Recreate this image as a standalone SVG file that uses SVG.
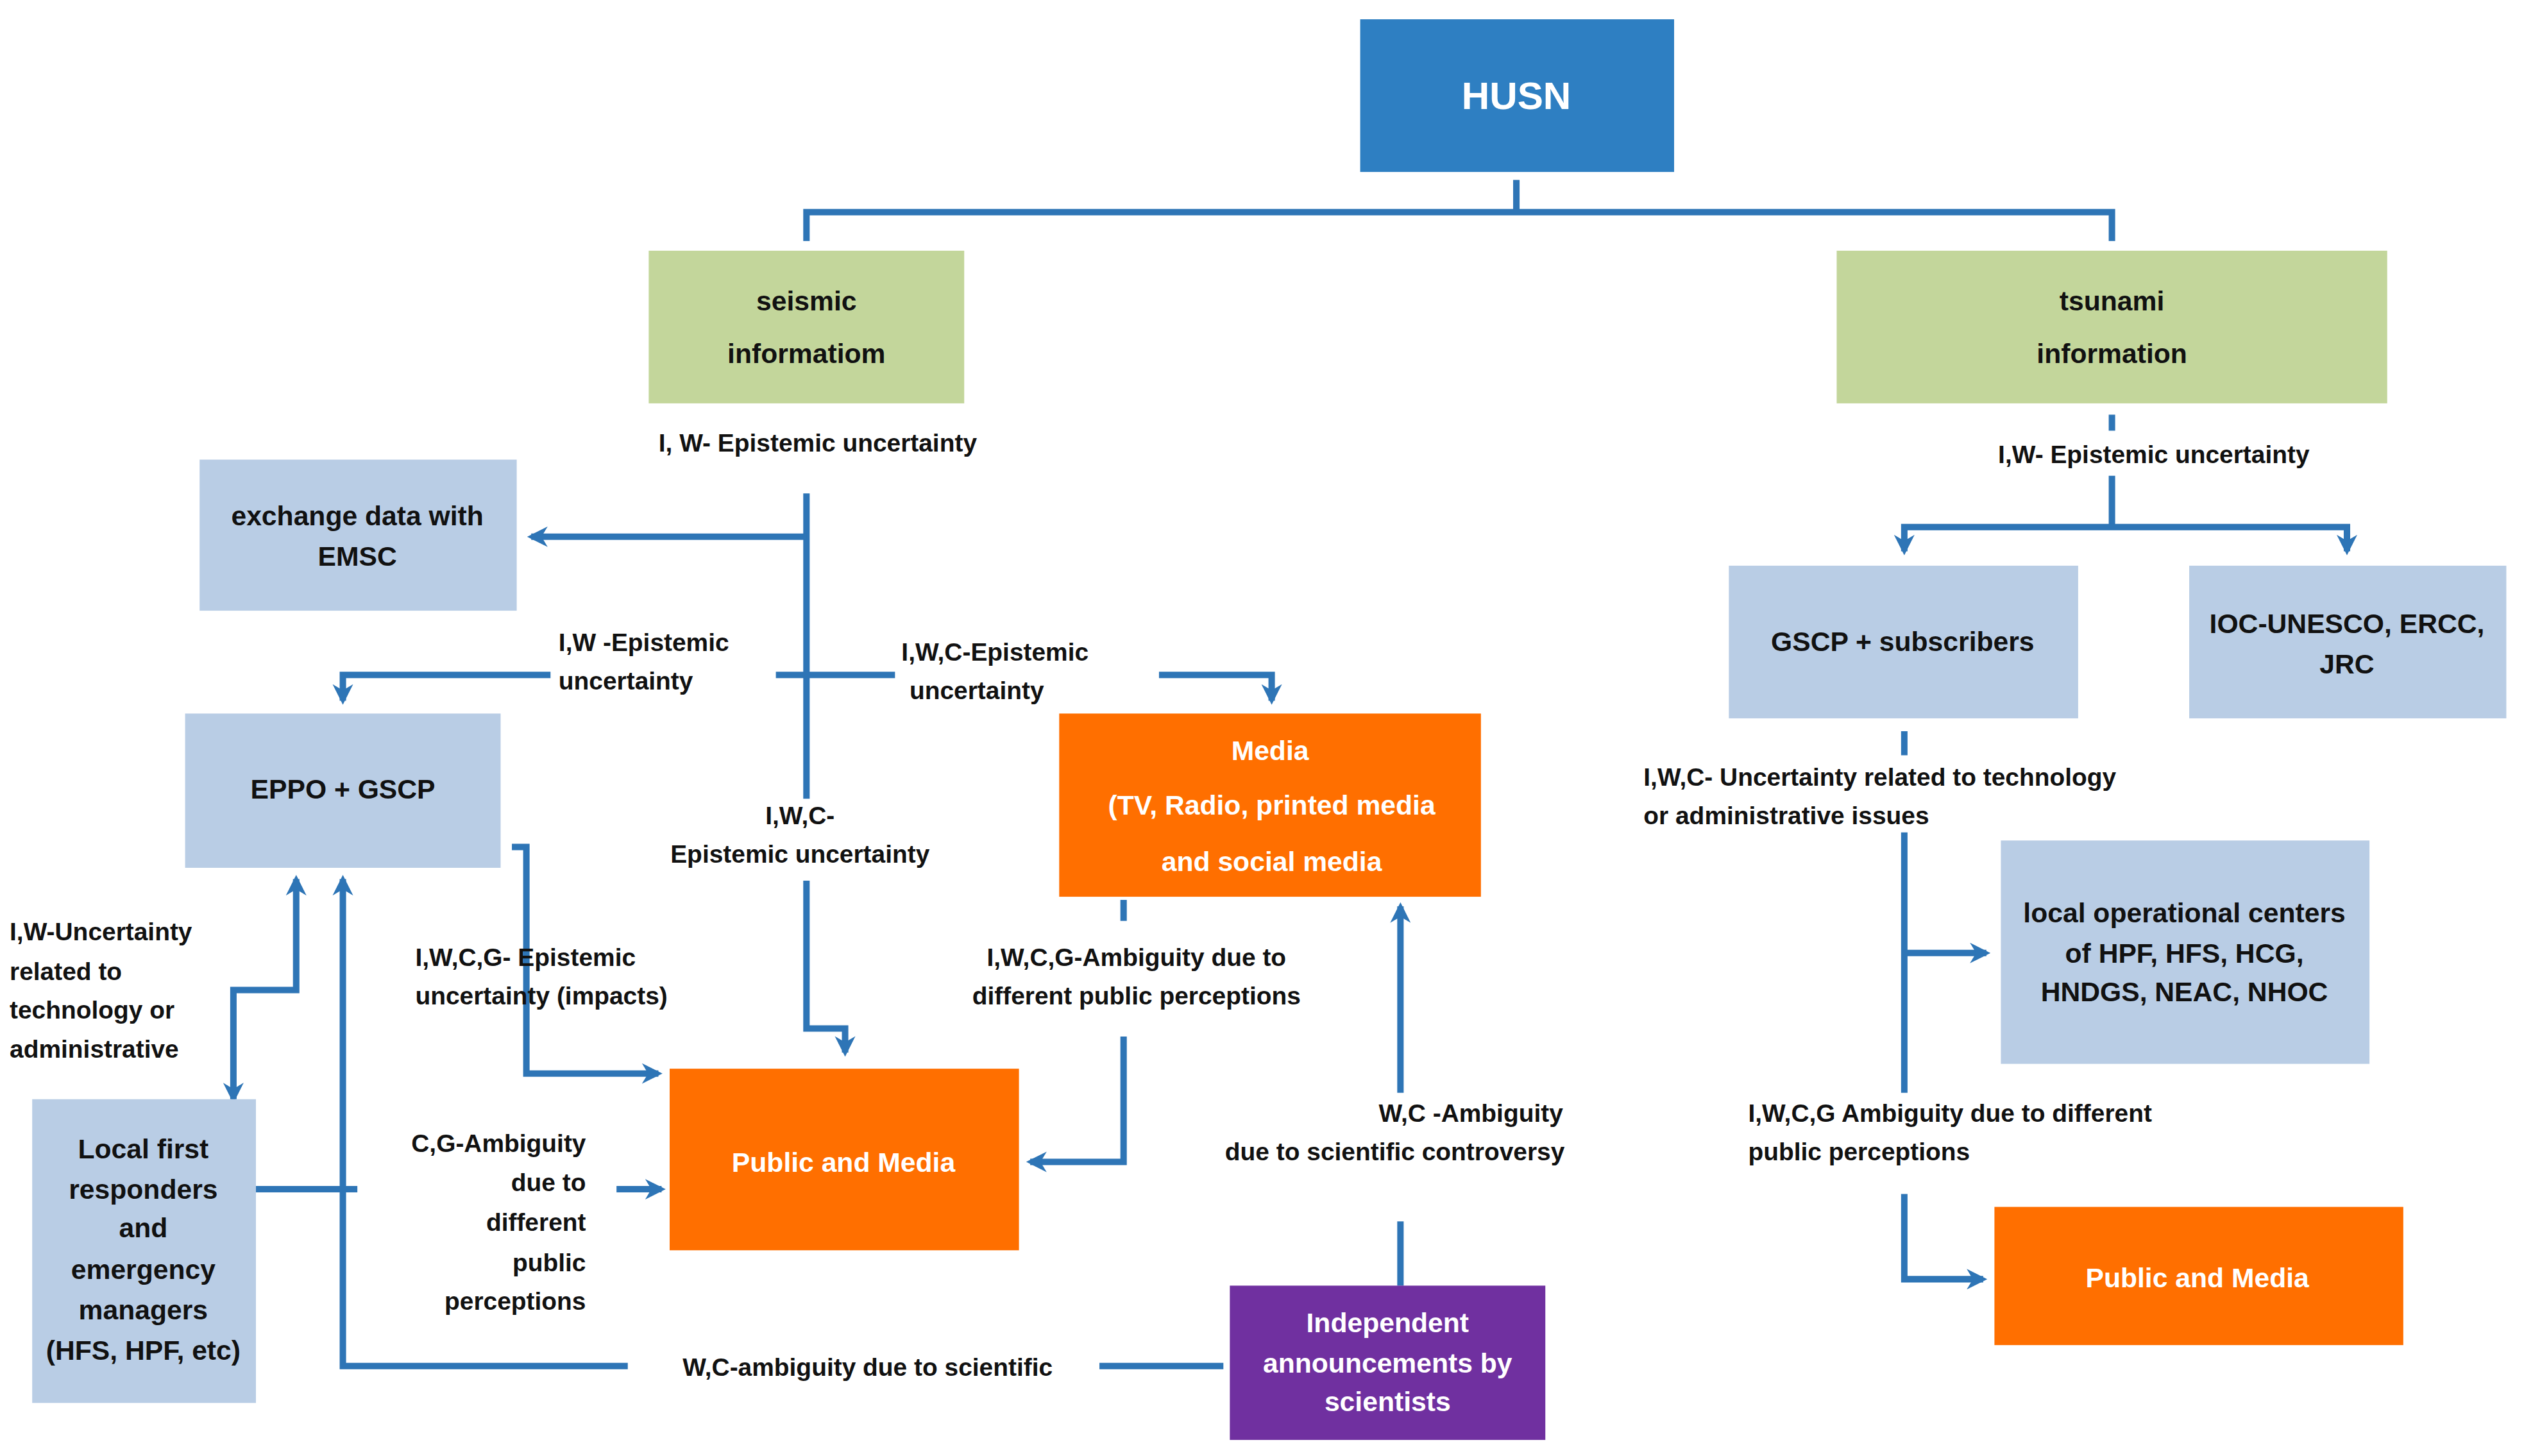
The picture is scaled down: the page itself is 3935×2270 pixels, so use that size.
<svg xmlns="http://www.w3.org/2000/svg" width="3935" height="2270" viewBox="0 0 3935 2270">
<style>
.t{font-family:"Liberation Sans",Arial,sans-serif;font-weight:bold;font-size:15.5px;fill:#111}
.w{font-family:"Liberation Sans",Arial,sans-serif;font-weight:bold;font-size:17px;fill:#fff}
.c{text-anchor:middle}.r{text-anchor:end}
.ln{fill:none;stroke:#2e75b6;stroke-width:4}
.blue{fill:#b9cde5}.green{fill:#c3d69b}.orange{fill:#ff6f00}.purple{fill:#7030a0}
</style>
<defs>
<marker id="a" viewBox="0 0 10 10" markerWidth="3.2" markerHeight="3.2" refX="8" refY="5" orient="auto-start-reverse"><path d="M0,0L10,5L0,10L3,5Z" fill="#2e75b6"/></marker>
</defs>
<rect width="3935" height="2270" fill="#fff"/>
<g transform="scale(2.5096,2.5055)">
<g id="connectors">
<path class="ln" d="M942,112V132M501,150V132H1312V150"/>
<path class="ln" d="M501,307V497M501,548V640H525V655" marker-end="url(#a)"/>
<path class="ln" d="M501,334H330" marker-end="url(#a)"/>
<path class="ln" d="M342,420H213V436" marker-end="url(#a)"/>
<path class="ln" d="M482,420H556"/>
<path class="ln" d="M720,420H790V436" marker-end="url(#a)"/>
<path class="ln" d="M318,527H327V668H409" marker-end="url(#a)"/>
<path class="ln" d="M698,560V573M698,645V723H640" marker-end="url(#a)"/>
<path class="ln" d="M870,680V564" marker-end="url(#a)"/>
<path class="ln" d="M870,760V800"/>
<path class="ln" d="M760,850H683"/>
<path class="ln" d="M390,850H213V547" marker-end="url(#a)"/>
<path class="ln" d="M150,740H222"/>
<path class="ln" d="M383,740H411" marker-end="url(#a)"/>
<path class="ln" d="M145,684V616H184V547" marker-start="url(#a)" marker-end="url(#a)"/>
<path class="ln" d="M1312,258V268M1312,296V328"/>
<path class="ln" d="M1183,343V328H1458V343" marker-start="url(#a)" marker-end="url(#a)"/>
<path class="ln" d="M1183,455V470M1183,518V680"/>
<path class="ln" d="M1183,593H1234" marker-end="url(#a)"/>
<path class="ln" d="M1183,743V796H1232" marker-end="url(#a)"/>
</g>
<g id="husn"><rect x="845" y="12" width="195" height="95" fill="#2e7fc2"/><text class="w c" x="942" y="68" style="font-size:24px">HUSN</text></g>
<g id="seismic"><rect class="green" x="403" y="156" width="196" height="95"/><text class="t c" x="501" y="193" style="font-size:17px">seismic</text><text class="t c" x="501" y="226" style="font-size:17px">informatiom</text></g>
<g id="tsunami"><rect class="green" x="1141" y="156" width="342" height="95"/><text class="t c" x="1312" y="193" style="font-size:17px">tsunami</text><text class="t c" x="1312" y="226" style="font-size:17px">information</text></g>
<g id="emsc"><rect class="blue" x="124" y="286" width="197" height="94"/><text class="t c" x="222" y="327" style="font-size:17px">exchange data with</text><text class="t c" x="222" y="352" style="font-size:17px">EMSC</text></g>
<g id="eppo"><rect class="blue" x="115" y="444" width="196" height="96"/><text class="t c" x="213" y="497" style="font-size:17px">EPPO + GSCP</text></g>
<g id="media"><rect class="orange" x="658" y="444" width="262" height="114"/><text class="w c" x="789" y="473">Media</text><text class="w c" x="790" y="507">(TV, Radio, printed media</text><text class="w c" x="790" y="542">and social media</text></g>
<g id="public1"><rect class="orange" x="416" y="665" width="217" height="113"/><text class="w c" x="524" y="729">Public  and Media</text></g>
<g id="independent"><rect class="purple" x="764" y="800" width="196" height="96"/><text class="w c" x="862" y="829">Independent</text><text class="w c" x="862" y="854">announcements by</text><text class="w c" x="862" y="878">scientists</text></g>
<g id="local"><rect class="blue" x="20" y="684" width="139" height="189"/><text class="t c" x="89" y="721" style="font-size:17px">Local first</text><text class="t c" x="89" y="746" style="font-size:17px">responders</text><text class="t c" x="89" y="770" style="font-size:17px">and</text><text class="t c" x="89" y="796" style="font-size:17px">emergency</text><text class="t c" x="89" y="821" style="font-size:17px">managers</text><text class="t c" x="89" y="846" style="font-size:17px">(HFS, HPF, etc)</text></g>
<g id="gscp"><rect class="blue" x="1074" y="352" width="217" height="95"/><text class="t c" x="1182" y="405" style="font-size:17px">GSCP + subscribers</text></g>
<g id="ioc"><rect class="blue" x="1360" y="352" width="197" height="95"/><text class="t c" x="1458" y="394" style="font-size:17px">IOC-UNESCO, ERCC,</text><text class="t c" x="1458" y="419" style="font-size:17px">JRC</text></g>
<g id="localops"><rect class="blue" x="1243" y="523" width="229" height="139"/><text class="t c" x="1357" y="574" style="font-size:17px">local operational centers</text><text class="t c" x="1357" y="599" style="font-size:17px">of HPF, HFS, HCG,</text><text class="t c" x="1357" y="623" style="font-size:17px">HNDGS, NEAC, NHOC</text></g>
<g id="public2"><rect class="orange" x="1239" y="751" width="254" height="86"/><text class="w c" x="1365" y="801">Public and Media</text></g>
<g id="labels">
<text class="t c" x="508" y="281">I, W- Epistemic uncertainty</text>
<text class="t" x="347" y="405">I,W -Epistemic</text><text class="t" x="347" y="429">uncertainty</text>
<text class="t" x="560" y="411">I,W,C-Epistemic</text><text class="t" x="565" y="435">uncertainty</text>
<text class="t c" x="497" y="513">I,W,C-</text><text class="t c" x="497" y="537">Epistemic uncertainty</text>
<text class="t" x="258" y="601">I,W,C,G- Epistemic</text><text class="t" x="258" y="625">uncertainty (impacts)</text>
<text class="t c" x="706" y="601">I,W,C,G-Ambiguity due to</text><text class="t c" x="706" y="625">different public perceptions</text>
<text class="t r" x="971" y="698">W,C -Ambiguity</text><text class="t r" x="972" y="722">due to scientific controversy</text>
<text class="t c" x="539" y="856">W,C-ambiguity due to scientific</text>
<text class="t" x="6" y="585">I,W-Uncertainty</text><text class="t" x="6" y="610">related to</text><text class="t" x="6" y="634">technology or</text><text class="t" x="6" y="658">administrative</text>
<text class="t r" x="364" y="717">C,G-Ambiguity</text><text class="t r" x="364" y="741">due to</text><text class="t r" x="364" y="766">different</text><text class="t r" x="364" y="791">public</text><text class="t r" x="364" y="815">perceptions</text>
<text class="t c" x="1338" y="288">I,W- Epistemic uncertainty</text>
<text class="t" x="1021" y="489">I,W,C- Uncertainty related to technology</text><text class="t" x="1021" y="513">or administrative issues</text>
<text class="t" x="1086" y="698">I,W,C,G Ambiguity due to different</text><text class="t" x="1086" y="722">public perceptions</text>
</g>
</g>
</svg>
